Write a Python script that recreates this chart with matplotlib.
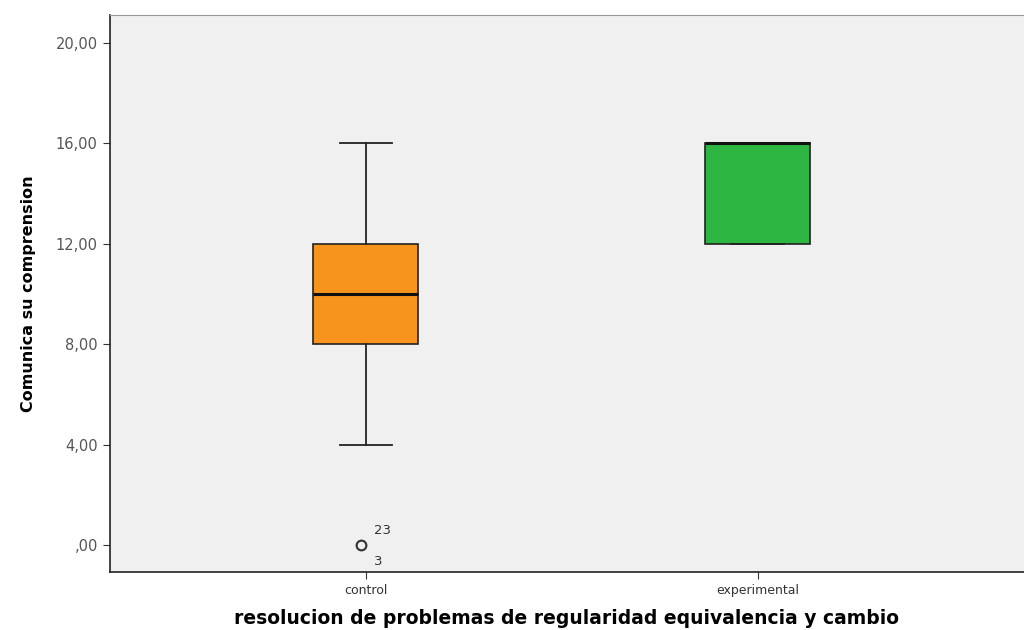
import numpy as np
import matplotlib.pyplot as plt

# group labels and box summary values
groups = ["control", "experimental"]
whislo = [4.0, 12.0]
q1 = [8.0, 12.0]
med = [10.0, 16.0]
q3 = [12.0, 16.0]
whishi = [16.0, 16.0]
fliers = [[0.0], []]
outlier_ids = [["23", "3"], []]
box_colors = ["#f7941d", "#2db742"]

yticks = [0, 4, 8, 12, 16, 20]

fig = plt.figure(figsize=(10.24, 6.3), dpi=100)
ax = fig.add_axes([0.107, 0.092, 0.893, 0.884])
ax.set_facecolor("#f0f0f0")

stats = []
for i, g in enumerate(groups):
    stats.append(dict(label=g, whislo=whislo[i], q1=q1[i], med=med[i],
                      q3=q3[i], whishi=whishi[i], fliers=fliers[i]))

pos = np.arange(1, len(groups) + 1)
bp = ax.bxp(stats, positions=pos, widths=0.267, patch_artist=True,
            showcaps=True, showfliers=True,
            boxprops=dict(linewidth=1.2, edgecolor="#222222"),
            medianprops=dict(color="#111111", linewidth=2.2),
            whiskerprops=dict(color="#222222", linewidth=1.3),
            capprops=dict(color="#222222", linewidth=1.3),
            flierprops=dict(marker="o", markersize=7, markerfacecolor="none",
                            markeredgecolor="#333333", markeredgewidth=1.5))
for patch, c in zip(bp["boxes"], box_colors):
    patch.set_facecolor(c)
for cap in bp["caps"]:
    x0, x1 = cap.get_xdata()
    m = (x0 + x1) / 2
    cap.set_xdata([m - 0.067, m + 0.067])
for fl in bp["fliers"]:
    fl.set_xdata(np.asarray(fl.get_xdata()) - 0.012)

# outlier case numbers
for i, ids in enumerate(outlier_ids):
    if ids:
        y = fliers[i][0]
        ax.annotate(ids[0], (pos[i], y), xytext=(6, 8), textcoords="offset points",
                    fontsize=9.5, color="#333333")
        ax.annotate(ids[1], (pos[i], y), xytext=(6, -14), textcoords="offset points",
                    fontsize=9.5, color="#333333")

ax.set_xlim(0.346, 2.68)
ax.set_ylim(-1.07, 21.1)
ax.set_yticks(yticks)
ax.set_yticklabels([",00" if v == 0 else ("%.2f" % v).replace(".", ",") for v in yticks])
ax.set_xticks(pos)
ax.set_xticklabels(groups)
ax.tick_params(axis="y", labelsize=10.5, labelcolor="#555555", length=5, color="#333333")
ax.tick_params(axis="x", labelsize=9, labelcolor="#333333", length=5, color="#333333")

for s in ["left", "bottom"]:
    ax.spines[s].set_color("#222222")
    ax.spines[s].set_linewidth(1.2)
ax.spines["top"].set_color("#999999")
ax.spines["right"].set_visible(False)

ax.set_ylabel("Comunica su comprension", fontsize=11.5, fontweight="bold",
              labelpad=14)
ax.set_xlabel("resolucion de problemas de regularidad equivalencia y cambio",
              fontsize=13.5, fontweight="bold", labelpad=9)

fig.savefig("out.png", dpi=100, facecolor="white")
